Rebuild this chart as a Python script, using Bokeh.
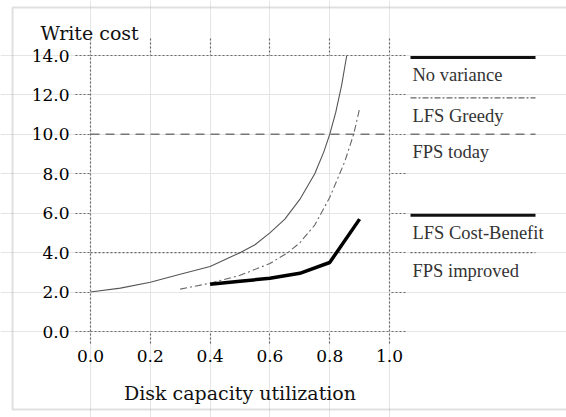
from bokeh.plotting import figure
from bokeh.models import Range1d, LinearAxis, FixedTicker, PrintfTickFormatter, BoxAnnotation
from bokeh.core.properties import value
from bokeh.embed import file_html
from bokeh.resources import INLINE

# ---- data ----
util_no_variance = [0.0, 0.1, 0.2, 0.3, 0.4, 0.5, 0.55, 0.6, 0.65, 0.7, 0.75, 0.78, 0.8, 0.82, 0.84, 0.857]
cost_no_variance = [2.0, 2.2, 2.5, 2.9, 3.3, 4.0, 4.4, 5.0, 5.7, 6.7, 8.0, 9.1, 10.0, 11.1, 12.5, 14.0]

util_lfs_greedy = [0.30, 0.40, 0.50, 0.60, 0.66, 0.70, 0.75, 0.80, 0.85, 0.88, 0.90]
cost_lfs_greedy = [2.15, 2.45, 2.85, 3.45, 4.0, 4.5, 5.4, 6.8, 8.6, 10.0, 11.3]

util_lfs_cb = [0.40, 0.50, 0.60, 0.70, 0.80, 0.90]
cost_lfs_cb = [2.4, 2.55, 2.7, 2.95, 3.5, 5.7]

util_fps = [0.0, 1.0]
cost_fps_today = [10.0, 10.0]
cost_fps_improved = [4.0, 4.0]

x_ticks = [0.0, 0.2, 0.4, 0.6, 0.8, 1.0]
y_ticks = [0.0, 2.0, 4.0, 6.0, 8.0, 10.0, 12.0, 14.0]

legend_labels = ["No variance", "LFS Greedy", "FPS today", "LFS Cost-Benefit", "FPS improved"]
legend_levels = [13.9, 11.85, 10.0, 5.9, 4.0]

# ---- figure: frame covers the whole canvas ----
PX_X = 299.0     # pixels per unit of utilization
PX_Y = 19.714    # pixels per unit of write cost
X0, Y0 = 90.0, 331.0  # pixel position of (0, 0)
W, H = 566, 417

p = figure(width=W, height=H,
           x_range=Range1d(-X0 / PX_X, (W - X0) / PX_X),
           y_range=Range1d(-(H - Y0) / PX_Y, Y0 / PX_Y),
           x_axis_location=None, y_axis_location=None,
           toolbar_location=None, output_backend="svg", min_border=0)
p.outline_line_color = None
p.background_fill_color = "white"
p.border_fill_color = "white"

SERIF = "DejaVu Serif"
AX_COL = "#6a6a6a"
DOT = "2 2"

def style_axis(ax, tick_out, labels):
    ax.axis_line_color = AX_COL
    ax.axis_line_dash = DOT
    ax.axis_line_width = 1.2
    ax.major_tick_line_color = AX_COL
    ax.major_tick_line_dash = DOT
    ax.major_tick_line_width = 1.2
    ax.major_tick_in = 0
    ax.major_tick_out = tick_out
    ax.minor_tick_line_color = None
    if labels:
        ax.formatter = PrintfTickFormatter(format="%.1f")
        ax.major_label_text_font = SERIF
        ax.major_label_text_font_size = "17px"
        ax.major_label_text_color = "#000000"
    else:
        ax.major_label_text_color = None

left = LinearAxis(ticker=FixedTicker(ticks=y_ticks), fixed_location=0.0, bounds=(0, 14))
style_axis(left, 15, True)
left.major_label_standoff = 6
p.add_layout(left, "left")

right = LinearAxis(ticker=FixedTicker(ticks=y_ticks), fixed_location=1.0, bounds=(0, 14))
style_axis(right, 16, False)
p.add_layout(right, "right")

below = LinearAxis(ticker=FixedTicker(ticks=x_ticks), fixed_location=0.0, bounds=(0, 1))
style_axis(below, 12, True)
below.major_label_standoff = 6
p.add_layout(below, "below")

above = LinearAxis(ticker=FixedTicker(ticks=x_ticks), fixed_location=14.0, bounds=(0, 1))
style_axis(above, 17, False)
p.add_layout(above, "above")

# ---- outer grey frame (left, top, bottom) ----
p.add_layout(BoxAnnotation(left=(12 - X0) / PX_X, right=3.0,
                           top=(Y0 - 7) / PX_Y, bottom=(Y0 - 409) / PX_Y,
                           fill_color=None, line_color="#999999", line_width=2))

# ---- series ----
p.line(util_fps, cost_fps_today, line_color="#777777", line_width=1.5, line_dash="9 6")
p.line(util_fps, cost_fps_improved, line_color="#666666", line_width=1.2, line_dash=DOT)
p.line(util_no_variance, cost_no_variance, line_color="#555555", line_width=1.1)
p.line(util_lfs_greedy, cost_lfs_greedy, line_color="#666666", line_width=1.1, line_dash="7 3 2 3")
p.line(util_lfs_cb, cost_lfs_cb, line_color="#000000", line_width=3.5)

# ---- legend drawn beside the plot: line above the label ----
lx0, lx1 = (410 - X0) / PX_X, (535 - X0) / PX_X
leg_styles = [
    dict(line_color="#111111", line_width=2.8),
    dict(line_color="#666666", line_width=1.2, line_dash="6 2 2 2"),
    dict(line_color="#777777", line_width=1.5, line_dash="9 6"),
    dict(line_color="#111111", line_width=3.0),
    dict(line_color="#666666", line_width=1.2, line_dash=DOT),
]
for lvl, st in zip(legend_levels, leg_styles):
    p.line([lx0, lx1], [lvl, lvl], **st)

p.text(x=[(412 - X0) / PX_X] * len(legend_labels), y=legend_levels, text=legend_labels,
       text_font=value("Liberation Serif"), text_font_size="18.5px", text_color="#333333",
       text_baseline="alphabetic", text_align="left", y_offset=18)

# ---- titles ----
p.text(x=[(40 - X0) / PX_X], y=[(Y0 - 32) / PX_Y], text=["Write cost"],
       text_font=value(SERIF), text_font_size="19px", text_color="#111111",
       text_baseline="alphabetic", text_align="left")
p.text(x=[0.5], y=[(Y0 - 392) / PX_Y], text=["Disk capacity utilization"],
       text_font=value(SERIF), text_font_size="19px", text_color="#111111",
       text_baseline="alphabetic", text_align="center")

open("out.html", "w").write(file_html(p, INLINE))
